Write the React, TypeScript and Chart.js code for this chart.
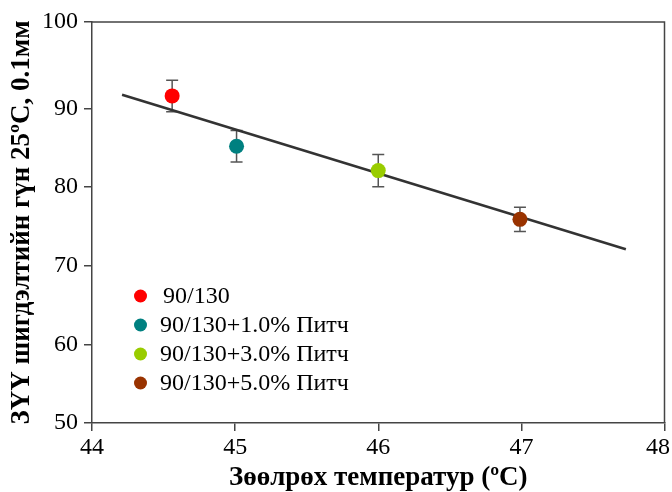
import React, { useEffect, useRef } from 'react';
import { Chart, registerables } from 'chart.js';

Chart.register(...registerables);

const groups = ['90/130', '90/130+1.0% Питч', '90/130+3.0% Питч', '90/130+5.0% Питч'];
const softening = [44.56, 45.01, 46.0, 46.99];
const penetration = [91.6, 85.2, 82.1, 75.9];
const errors = [2.0, 2.0, 2.05, 1.55];
const colors = ['#ff0000', '#008080', '#99cc00', '#993300'];
const fitX = [44.21, 47.73];
const fitY = [91.75, 72.1];
const xTicks = [44, 45, 46, 47, 48];
const yTickValues = [50, 60, 70, 80, 90, 101];
const yTickLabels = ['50', '60', '70', '80', '90', '100'];
const xTitle = 'Зөөлрөх температур (ºC)';
const yTitle = 'ЗҮҮ шигдэлтийн гүн 25ºC, 0.1мм';

const SERIF = "'Liberation Serif', 'Times New Roman', serif";
const AXIS = '#444';

const errorBars = {
  id: 'errorBars',
  beforeDatasetsDraw(chart: any) {
    const { ctx } = chart;
    const x = chart.scales.x;
    const y = chart.scales.y;
    ctx.save();
    ctx.strokeStyle = '#555';
    ctx.lineWidth = 1.5;
    chart.data.datasets.forEach((ds: any) => {
      const err = ds.errors;
      if (!err) return;
      ds.data.forEach((p: any, j: number) => {
        const px = x.getPixelForValue(p.x);
        const top = y.getPixelForValue(p.y + err[j]);
        const bot = y.getPixelForValue(p.y - err[j]);
        ctx.beginPath();
        ctx.moveTo(px, top);
        ctx.lineTo(px, bot);
        ctx.moveTo(px - 6, top);
        ctx.lineTo(px + 6, top);
        ctx.moveTo(px - 6, bot);
        ctx.lineTo(px + 6, bot);
        ctx.stroke();
      });
    });
    ctx.restore();
  },
};

const frameAndLabels = {
  id: 'frameAndLabels',
  afterDraw(chart: any) {
    const { ctx, chartArea } = chart;
    const x = chart.scales.x;
    ctx.save();
    ctx.strokeStyle = AXIS;
    ctx.lineWidth = 1.5;
    ctx.beginPath();
    ctx.moveTo(chartArea.left, chartArea.top);
    ctx.lineTo(chartArea.right, chartArea.top);
    ctx.lineTo(chartArea.right, chartArea.bottom);
    ctx.stroke();
    ctx.fillStyle = '#000';
    ctx.font = `24px ${SERIF}`;
    ctx.textBaseline = 'top';
    ctx.textAlign = 'center';
    xTicks.forEach((v) => {
      const label = String(v);
      const w = ctx.measureText(label).width;
      let cx = x.getPixelForValue(v);
      cx = Math.min(cx, chart.width - 2 - w / 2);
      ctx.fillText(label, cx, chartArea.bottom + 13);
    });
    ctx.font = `24px ${SERIF}`;
    ctx.textAlign = 'left';
    ctx.textBaseline = 'middle';
    groups.forEach((g, i) => {
      const cy = chartArea.top + 274 + i * 29;
      const cx = chartArea.left + 48.5;
      ctx.beginPath();
      ctx.fillStyle = colors[i];
      ctx.arc(cx, cy, 6.5, 0, Math.PI * 2);
      ctx.fill();
      ctx.fillStyle = '#000';
      ctx.fillText(g, chartArea.left + (i === 0 ? 71 : 68), cy + 1);
    });
    ctx.restore();
  },
};

export default function App() {
  const ref = useRef<HTMLCanvasElement>(null);

  useEffect(() => {
    if (!ref.current) return;
    const pointSets = groups.map((g, i) => ({
      label: g,
      data: [{ x: softening[i], y: penetration[i] }],
      errors: [errors[i]],
      pointRadius: 7.5,
      pointBackgroundColor: colors[i],
      pointBorderWidth: 0,
      borderColor: colors[i],
      showLine: false,
    }));
    const fitSet = {
      label: 'fit',
      data: fitX.map((v, i) => ({ x: v, y: fitY[i] })),
      showLine: true,
      borderColor: '#333',
      borderWidth: 2.5,
      pointRadius: 0,
    };
    const chart = new Chart(ref.current, {
      type: 'scatter',
      data: { datasets: [...pointSets, fitSet] as any },
      options: {
        animation: false,
        responsive: true,
        maintainAspectRatio: false,
        layout: { padding: { top: 22, right: 7, left: 0, bottom: 0 } },
        plugins: { legend: { display: false }, tooltip: { enabled: false } },
        scales: {
          x: {
            type: 'linear',
            min: 44,
            max: 48,
            afterBuildTicks: (s: any) => {
              s.ticks = xTicks.map((v) => ({ value: v }));
            },
            ticks: { display: false },
            grid: { drawOnChartArea: false, drawTicks: true, tickLength: 8, color: AXIS, lineWidth: 1.5 },
            border: { display: true, color: AXIS, width: 1.5 },
            title: {
              display: true,
              text: xTitle,
              color: '#000',
              font: { family: SERIF, size: 27, weight: 'bold', lineHeight: 1.0 },
              padding: { top: 0, bottom: 0 },
            },
            afterFit: (s: any) => {
              s.height = 69;
              s.paddingLeft = 0;
              s.paddingRight = 0;
            },
          } as any,
          y: {
            type: 'linear',
            min: 50,
            max: 101,
            afterBuildTicks: (s: any) => {
              s.ticks = yTickValues.map((v) => ({ value: v }));
            },
            ticks: {
              color: '#000',
              font: { family: SERIF, size: 24 },
              padding: 6,
              callback: (_v: any, i: number) => yTickLabels[i],
            },
            grid: { drawOnChartArea: false, drawTicks: true, tickLength: 8, color: AXIS, lineWidth: 1.5 },
            border: { display: true, color: AXIS, width: 1.5 },
            title: {
              display: true,
              text: yTitle,
              color: '#000',
              font: { family: SERIF, size: 27, weight: 'bold', lineHeight: 1.0 },
              padding: { top: 9, bottom: 0 },
            },
            afterFit: (s: any) => {
              s.width = 92;
              s.paddingTop = 0;
              s.paddingBottom = 0;
            },
          } as any,
        },
      },
      plugins: [errorBars, frameAndLabels],
    });
    return () => chart.destroy();
  }, []);

  return (
    <div style={{ position: 'fixed', left: 0, top: 0, width: 672, height: 492, background: '#fff' }}>
      <canvas ref={ref} />
    </div>
  );
}
